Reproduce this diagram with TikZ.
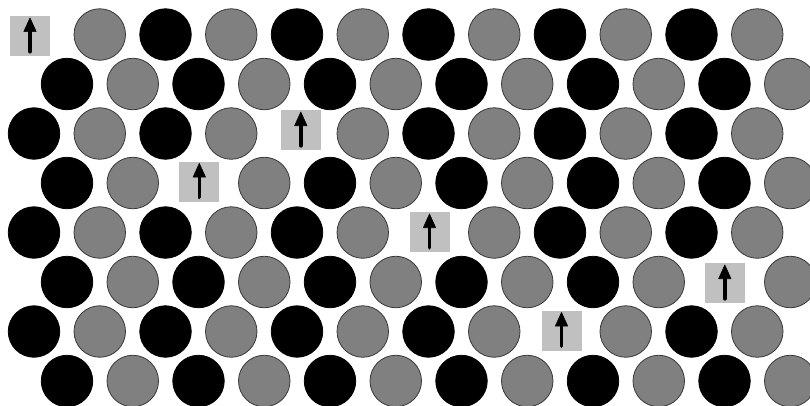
\documentclass[tikz,border=0pt]{standalone}
\definecolor{discgray}{HTML}{808080}
\definecolor{discedge}{HTML}{383838}
\definecolor{tilegray}{HTML}{C0C0C0}
\tikzset{
  disc/.style={circle, minimum size=51.5pt, inner sep=0pt, line width=0.8pt},
  blackdisc/.style={disc, fill=black, draw=black},
  graydisc/.style={disc, fill=discgray, draw=discedge},
  tile/.style={rectangle, minimum size=40pt, inner sep=0pt, fill=tilegray},
  spinshaft/.style={line width=3.6pt, line cap=round, draw=black},
  spinhead/.style={fill=black, draw=black, line width=0.6pt, line join=round}
}
\newcommand{\spinarrow}[1]{%
  \draw[spinshaft] ([yshift=-15.5pt]#1.center) -- ([yshift=8pt]#1.center);
  \filldraw[spinhead] ([yshift=18.3pt]#1.center) -- ([shift={(-6.2pt,4.6pt)}]#1.center) -- ([shift={(6.2pt,4.6pt)}]#1.center) -- cycle;
}
\begin{document}
\begin{tikzpicture}[x=1pt,y=-1pt]
\useasboundingbox (0,0) rectangle (810,405);
\clip (0,0) rectangle (810,405);
\fill[white] (0,0) rectangle (810,405);
\foreach \r in {1,...,8} {
  \foreach \k in {0,...,11} {
    \pgfmathsetmacro\yy{34.5+49.5*(\r-1)}
    \pgfmathsetmacro\xx{isodd(\r) ? 34+65.75*\k : 67+65.75*\k}
    \pgfmathtruncatemacro\skipit{((\r==1)&&(\k==0)) || ((\r==3)&&(\k==4)) || ((\r==4)&&(\k==2)) || ((\r==5)&&(\k==6)) || ((\r==6)&&(\k==10)) || ((\r==7)&&(\k==8)) ? 1 : 0}
    \ifnum\skipit=0
      \ifodd\k
        \node[graydisc] (c-\r-\k) at (\xx,\yy) {};
      \else
        \node[blackdisc] (c-\r-\k) at (\xx,\yy) {};
      \fi
    \fi
  }
}
\node[tile] (t1) at (30,36.2) {};
\node[tile] (t2) at (300.8,130.3) {};
\node[tile] (t3) at (199.3,181.7) {};
\node[tile] (t4) at (429.5,232.3) {};
\node[tile] (t5) at (724.8,283.3) {};
\node[tile] (t6) at (561.5,330.7) {};
\spinarrow{t1}
\spinarrow{t2}
\spinarrow{t3}
\spinarrow{t4}
\spinarrow{t5}
\spinarrow{t6}
\end{tikzpicture}
\end{document}
